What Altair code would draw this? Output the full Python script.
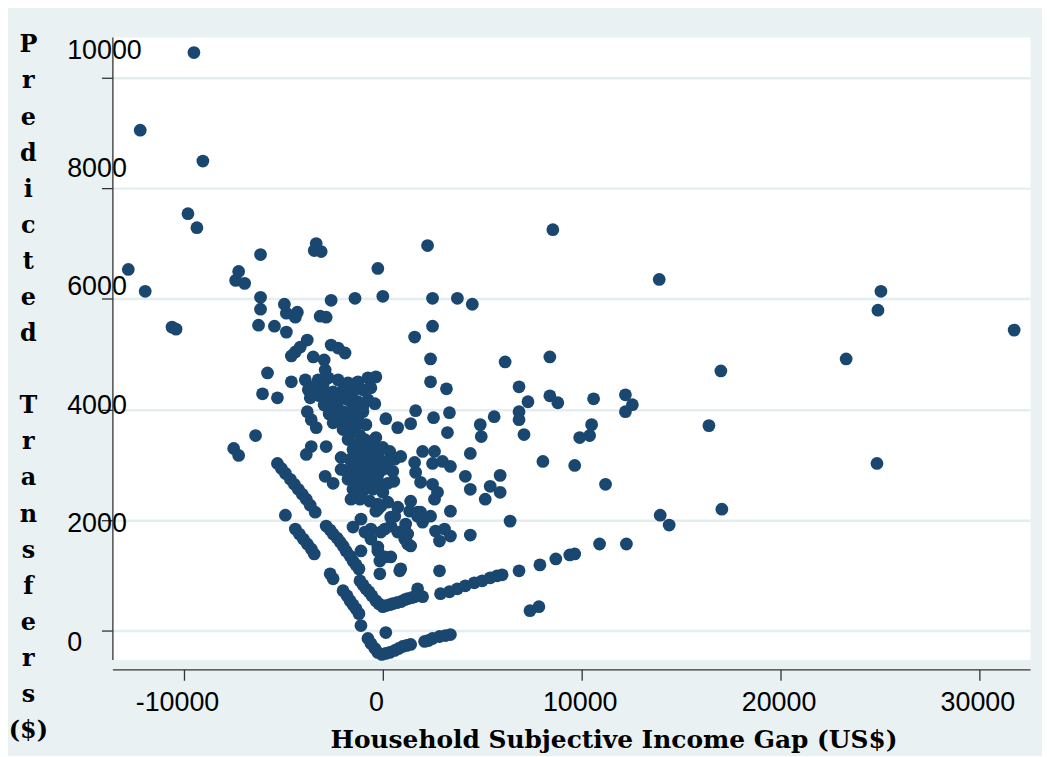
import altair as alt
import pandas as pd

# ---- data (income gap US$, predicted transfers $) ----
upper_left = [(-9500,10458),(-12200,9054),(-9050,8496),(-9800,7542),(-9350,7290),(-12800,6534),
              (-11950,6138),(-10600,5490),(-10400,5454),(-6150,6804),(-7250,6498),(-7400,6336),
              (-6950,6282),(-6150,6030),(-6150,5814),(-6250,5526),(-5450,5508),(-4850,5400),
              (-4950,5904),(-4850,5742),(-4300,5760),(-4400,5670),(-3350,7002),(-3450,6876),
              (-3100,6858),(-3150,5688),(-2850,5670),(-2600,5976),(-1400,6012),(-250,6552),(0,6048)]

left_mid = [(-3800,5256),(-4150,5130),(-4400,5040),(-4600,4968),(-2600,5166),(-2250,5112),
            (-1900,5022),(-3500,4950),(-2950,4896),(-2900,4716),(-5800,4662),(-4600,4500),
            (-6050,4284),(-5300,4212),(-6400,3528),(-7500,3294),(-7250,3168),(-3800,3960),
            (-3600,3816),(-3350,3672),(-3600,3330),(-3850,3186),(-2850,3330),(-2100,3132),
            (-2100,2916),(-2900,2790),(-2500,2664),(-3900,4536),(-3750,4356),(-3650,4212)]

cluster_upper = [(-3250,4536),(-2750,4572),(-2250,4536),(-1750,4482),(-1250,4500),(-750,4572),
                 (-350,4590),(-3000,4356),(-2500,4320),(-2000,4356),(-1500,4320),(-1000,4356),
                 (-600,4392),(-2750,4176),(-2250,4140),(-1750,4176),(-1250,4140),(-750,4176),
                 (-400,4104),(-2500,3996),(-2000,3960),(-1500,3996),(-1000,3960),(-2250,3816),
                 (-1750,3780),(-1250,3816),(-850,3726),(-2000,3636),(-1500,3600),(-1150,3528),
                 (-1750,3456),(-1350,3366),(-3000,4450),(-2000,4250),(-1500,4060),(-2500,4230),
                 (-1000,4060),(-1800,3880),(-1350,3700),(-3450,4420),(-3200,4250),(-2950,4080),
                 (-2700,3920),(-2500,3760)]

cluster_lower = [(-1500,3276),(-1000,3312),(-500,3366),(0,3312),(350,3240),(-1650,3096),
                 (-1150,3096),(-650,3132),(-150,3096),(250,3060),(-1500,2916),(-1000,2916),
                 (-500,2952),(0,2916),(500,2880),(-1750,2736),(-1250,2736),(-750,2736),
                 (-250,2700),(250,2664),(-1500,2556),(-1000,2520),(-500,2556),(0,2502),
                 (-1150,2376),(-650,2340),(-250,2286),(-900,3456),(-350,3492),(-1250,3200),
                 (-750,3220),(-250,3190),(-1300,3000),(-800,3010),(-250,3000),(-1250,2830),
                 (-750,2840),(-250,2820),(-1250,2640),(-750,2640),(-300,2600),(-1900,2900),
                 (600,3100),(550,2700)]

right_spread = [(2500,5508),(1600,5310),(2400,4914),(2400,4500),(3200,4374),(6150,4860),
                (1650,3978),(2550,3852),(3350,3942),(3250,3582),(4900,3726),(4950,3510),
                (5600,3870),(150,3834),(750,3672),(1400,3744),(4400,3204),(2000,3240),
                (2600,3240),(2500,3024),(3000,3060),(3400,2970),(900,3150),(1600,3042),
                (1650,2862),(4150,2790),(4400,2556),(5900,2808),(5400,2610),(5900,2502),
                (5150,2376),(1900,2682),(2500,2646),(2750,2502),(2600,2376),(2500,6012),
                (3750,6012),(4500,5904),(2250,6966),(8550,7254),(13900,6354),(8400,4950),
                (6850,4410),(7300,4140),(8400,4248),(8800,4122),(10600,4194),(12200,4266),
                (12550,4086),(12200,3960),(6850,3960),(6850,3816),(7100,3546),(10500,3726),
                (10400,3528),(9900,3492),(16400,3708),(17000,4698),(8050,3060),(9650,2988),
                (11200,2646),(17050,2196),(13950,2088),(14400,1908),(23300,4914),(24900,5796),
                (25050,6138),(31750,5436),(24850,3024)]

lower_center = [(-250,2196),(250,2322),(750,2232),(1400,2340),(1750,2142),(2400,2070),
                (600,2070),(400,1890),(750,1782),(1100,1656),(1400,1530),(-1100,2016),
                (-1500,1872),(-600,1836),(-100,1782),(-600,1656),(-1100,1440),(-250,1512),
                (-150,1260),(-150,1026),(400,1332),(850,1080),(3400,2160),(2850,1080),
                (4400,1728),(6400,1980),(2650,1800),(3100,1836),(3400,1710),(2850,1620),
                (1900,2142),(2000,1962),(100,1836),(100,1332),(-250,1440),(-900,1782),
                (-1600,2376),(-350,2160),(-100,2250),(400,2052),(1100,1836),(1350,2160),
                (1750,2070),(900,1116),(1150,1926),(1250,1746),(1250,1566)]

diagonal_bands = [(-5300,3024),(-5100,2934),(-4900,2844),(-4650,2736),(-4450,2646),(-4250,2556),
                  (-4050,2466),(-3850,2376),(-3650,2268),(-3400,2142),(-4900,2088),(-4400,1836),
                  (-4200,1746),(-4000,1656),(-3800,1566),(-3600,1476),(-3450,1386),(-2850,1890),
                  (-2650,1818),(-2500,1746),(-2300,1674),(-2150,1602),(-2000,1530),(-1850,1440),
                  (-1650,1350),(-1500,1260),(-1350,1188),(-1200,1116),(-2650,1026),(-2500,936),
                  (-2000,720),(-1800,630),(-1650,540),(-1500,468),(-1350,396),(-1200,306),(-1100,90)]

kink_arm = [(-1150,900),(-1000,828),(-850,756),(-700,702),(-550,630),(-350,540),(-200,486),
            (0,432),(150,450),(350,468),(500,486),(700,504),(900,522),(1100,558),(1250,576),
            (1450,594),(1600,612),(1750,756),(2000,612),(2900,666),(3350,702),(3750,756),
            (4150,810),(4600,864),(5000,900),(5400,954),(5750,990),(6000,1008),(6850,1080),
            (7900,1188),(8700,1296),(9400,1368),(9650,1386),(10900,1566),(12250,1566),
            (7400,360),(7850,432)]

bottom_line = [(-750,-144),(-600,-234),(-400,-324),(-250,-396),(-50,-432),(150,-414),(350,-396),
               (600,-360),(800,-324),(1000,-288),(1200,-270),(1400,-252),(2100,-198),(2300,-180),
               (2500,-144),(2850,-108),(3150,-90),(3400,-72),(150,-36)]

x_ticks = [-10000, 0, 10000, 20000, 30000]
y_ticks = [0, 2000, 4000, 6000, 8000, 10000]
x_title = "Household Subjective Income Gap (US$)"
y_title_letters = ["P", "r", "e", "d", "i", "c", "t", "e", "d", "\u200b",
                   "T", "r", "a", "n", "s", "f", "e", "r", "s", "($)"]

rows = []
for grp in [upper_left, left_mid, cluster_upper, cluster_lower, right_spread,
            lower_center, diagonal_bands, kink_arm, bottom_line]:
    rows.extend(grp)
df = pd.DataFrame(rows, columns=["gap", "transfers"])

BG = "#e9f1f3"
AXC = "#333333"
serif = "DejaVu Serif"
sans = "Liberation Sans"

chart = alt.Chart(df).mark_circle(size=165, color="#1a476f", opacity=1).encode(
    x=alt.X("gap:Q",
            scale=alt.Scale(domain=[-13600, 32550], nice=False, zero=False),
            axis=alt.Axis(values=x_ticks, grid=False, offset=10,
                          domainColor=AXC, domainWidth=1.3,
                          tickColor=AXC, tickSize=11, tickWidth=1.3,
                          labelFont=sans, labelFontSize=27, labelColor="black",
                          labelPadding=9, labelFlush=False, labelOverlap=False,
                          labelOffset={"expr": "datum.value <= 0 ? -7 : -2"},
                          labelExpr="datum.value < 0 ? '-' + abs(datum.value) : '' + datum.value",
                          title=x_title, titleFont=serif, titleFontWeight="bold",
                          titleFontSize=25, titleColor="black",
                          titleX=504, titleY=79, titleAlign="center",
                          titleBaseline="alphabetic")),
    y=alt.Y("transfers:Q",
            scale=alt.Scale(domain=[-522, 10740], nice=False, zero=False),
            axis=alt.Axis(values=y_ticks, grid=True, gridColor="#e4edf0", gridWidth=2.5,
                          domainColor=AXC, domainWidth=1.3,
                          tickColor=AXC, tickSize=11, tickWidth=1.3,
                          labelFont=sans, labelFontSize=27, labelColor="black",
                          labelAlign="left", labelBaseline="middle", labelPadding=35,
                          labelFlush=False, labelOverlap=False,
                          labelOffset={"expr": "12 - datum.value * 0.004"},
                          labelExpr="'' + datum.value",
                          title=y_title_letters, titleFont=serif, titleFontWeight="bold",
                          titleFontSize=24, titleColor="black", titleAngle=0,
                          titleAlign="center", titleBaseline="top",
                          titleX=-85, titleY=-4, titleLineHeight=36.3)),
).properties(
    width=923, height=626,
    background=BG,
    padding={"left": 105, "top": 27, "right": 12, "bottom": 95},
    autosize=alt.AutoSizeParams(type="none"),
).configure_view(fill="white", strokeOpacity=0)

chart.save("out.html", embed_options={"renderer": "svg", "actions": False})
